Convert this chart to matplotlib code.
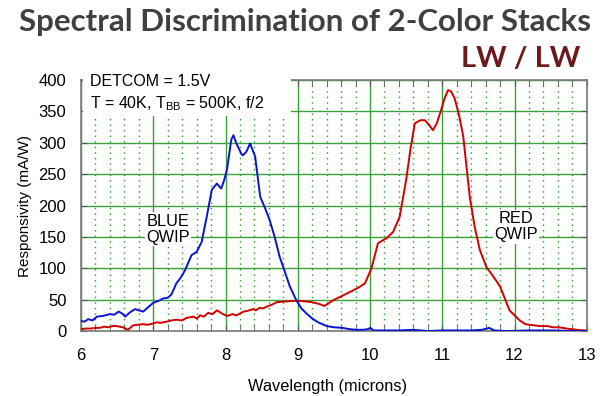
import numpy as np
import matplotlib.pyplot as plt
from matplotlib.ticker import MultipleLocator

# curva azul (BLUE QWIP)
blue_x = [6.0, 6.05, 6.1, 6.16, 6.22, 6.3, 6.4, 6.46, 6.52, 6.57, 6.61, 6.68, 6.75, 6.8, 6.86,
          6.93, 7.0, 7.07, 7.14, 7.2, 7.25, 7.32, 7.38, 7.44, 7.53, 7.6, 7.67, 7.74, 7.81, 7.88,
          7.94, 7.98, 8.02, 8.08, 8.11, 8.15, 8.22, 8.24, 8.29, 8.34, 8.41, 8.48, 8.55, 8.61,
          8.68, 8.75, 8.82, 8.89, 8.98, 9.05, 9.12, 9.2, 9.28, 9.4, 9.5, 9.62, 9.72, 9.81, 9.9,
          9.97, 10.0, 10.05, 10.2, 10.4, 10.6, 10.8, 11.0, 11.2, 11.4, 11.55, 11.65, 11.72, 11.9,
          12.2, 12.5, 12.8, 13.0]
blue_y = [16, 15, 19, 17, 23, 24, 27, 26, 31, 28, 23, 30, 35, 33, 31,
          38, 45, 48, 52, 53, 58, 76, 85, 97, 121, 126, 142, 182, 225, 235,
          227, 240, 257, 305, 312, 299, 282, 280, 286, 299, 278, 214, 195, 177,
          150, 118, 95, 71, 49, 36, 28, 20, 14, 8, 6, 5, 3, 2, 2,
          3, 5, 1, 1, 1, 2, 0, 1, 1, 1, 2, 5, 1, 0,
          1, 1, 0, 0]

# curva roja (RED QWIP)
red_x = [6.0, 6.07, 6.13, 6.2, 6.26, 6.32, 6.38, 6.44, 6.49, 6.58, 6.65, 6.72, 6.78, 6.85, 6.92,
         7.0, 7.05, 7.1, 7.19, 7.25, 7.32, 7.4, 7.46, 7.56, 7.6, 7.65, 7.7, 7.76, 7.82, 7.88,
         7.95, 8.02, 8.1, 8.15, 8.2, 8.25, 8.3, 8.38, 8.42, 8.47, 8.52, 8.57, 8.64, 8.71, 8.82,
         8.94, 9.03, 9.12, 9.2, 9.3, 9.37, 9.49, 9.56, 9.63, 9.7, 9.77, 9.85, 9.93, 10.02,
         10.11, 10.23, 10.32, 10.41, 10.5, 10.56, 10.62, 10.7, 10.76, 10.82, 10.87, 10.92,
         10.97, 11.03, 11.08, 11.12, 11.17, 11.23, 11.29, 11.38, 11.45, 11.52, 11.61, 11.7,
         11.8, 11.93, 12.07, 12.15, 12.21, 12.35, 12.45, 12.53, 12.62, 12.72, 12.86, 12.97, 13.0]
red_y = [3, 4, 4, 5, 5, 7, 6, 8, 8, 6, 2, 9, 10, 11, 10,
         12, 14, 13, 15, 17, 18, 17, 21, 23, 20, 25, 23, 29, 27, 33,
         28, 24, 27, 25, 28, 31, 32, 35, 33, 37, 36, 39, 42, 46, 47,
         48, 48, 47, 46, 43, 40, 49, 53, 57, 61, 65, 70, 76, 100,
         140, 148, 158, 182, 241, 290, 331, 336, 336, 328, 320, 330,
         347, 370, 384, 382, 371, 345, 310, 214, 165, 129, 102, 88,
         71, 33, 17, 11, 10, 8, 8, 6, 6, 4, 2, 1, 1]

xticks = [6, 7, 8, 9, 10, 11, 12, 13]
yticks = [0, 50, 100, 150, 200, 250, 300, 350, 400]

fig = plt.figure(figsize=(6, 3.96), dpi=100)
ax = fig.add_axes([0.135, 0.164, 0.843, 0.634])

ax.plot(red_x, red_y, color='#d40000', lw=1.4, zorder=3)
ax.plot(blue_x, blue_y, color='#0a14d0', lw=1.4, zorder=3)

ax.set_xlim(6, 13)
ax.set_ylim(0, 400)
ax.set_xticks(xticks)
ax.set_yticks(yticks)
ax.xaxis.set_minor_locator(MultipleLocator(0.2))
ax.grid(which='major', axis='both', color='#3aa03a', lw=1.0, zorder=0)
ax.grid(which='minor', axis='x', color='#1e9a1e', lw=1.0, ls=(0, (1, 3)), zorder=0)
ax.set_axisbelow(True)

for s in ax.spines.values():
    s.set_color('#7a7a7a')
    s.set_linewidth(1.2)
ax.tick_params(which='both', direction='in', top=True, right=True, color='#555555',
               labelsize=12, length=4)
ax.tick_params(axis='x', pad=12)
ax.tick_params(axis='y', pad=10.5)
for lab in ax.get_xticklabels() + ax.get_yticklabels():
    lab.set_family('Liberation Sans')

ax.set_xlabel('Wavelength (microns)', fontsize=11.8, family='Liberation Sans')
ax.xaxis.set_label_coords(0.488, -0.19)
ax.set_ylabel('Responsivity (mA/W)', fontsize=11, family='Liberation Sans', labelpad=5)

ax.text(7.2, 162, 'BLUE\nQWIP', ha='center', va='center', fontsize=11.8,
        family='Liberation Sans', linespacing=1.1, zorder=4,
        bbox=dict(facecolor='white', edgecolor='none', pad=1))
ax.text(12.02, 166, 'RED\nQWIP', ha='center', va='center', fontsize=11.8,
        family='Liberation Sans', linespacing=1.1, zorder=4,
        bbox=dict(facecolor='white', edgecolor='none', pad=1))

# caja de condiciones
box = plt.Rectangle((6.03, 342), 2.87, 66, facecolor='white', edgecolor='none',
                    zorder=5, clip_on=False)
ax.add_patch(box)
ax.text(6.12, 397, 'DETCOM = 1.5V', fontsize=11.5, family='Liberation Sans',
        va='center', zorder=6)
ax.text(6.12, 363, r'T = 40K, T$_{\mathregular{BB}}$ = 500K, f/2', fontsize=11.5,
        family='Liberation Sans', va='center', zorder=6)

fig.text(0.508, 0.945, 'Spectral Discrimination of 2-Color Stacks', ha='center', va='center',
         fontsize=22.5, fontweight='bold', family='Lato', color='#404040')
fig.text(0.967, 0.85, 'LW / LW', ha='right', va='center', fontsize=21,
         fontweight='bold', family='Lato', color='#6b1a1a')

fig.savefig('out.png', dpi=100)
